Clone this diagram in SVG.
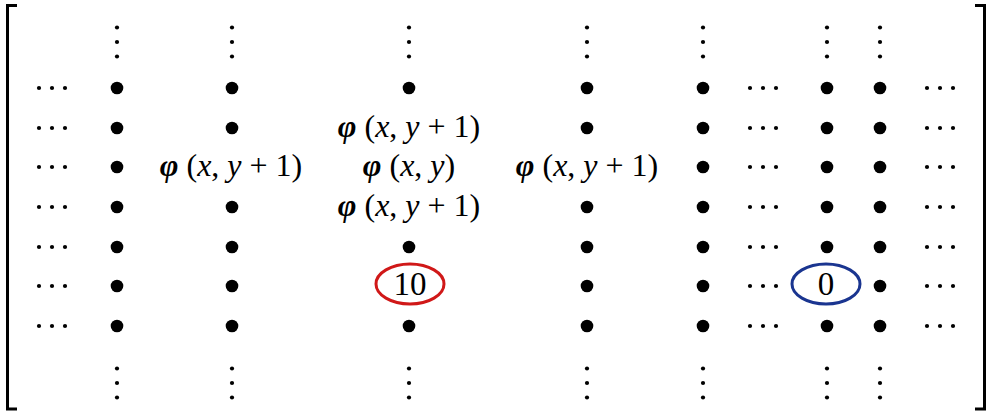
<svg xmlns="http://www.w3.org/2000/svg" xmlns:xlink="http://www.w3.org/1999/xlink" width="995" height="418" viewBox="0 0 995 418">
<style>
.bk{fill:none;stroke:#000;stroke-width:3}
.t{font-family:"Liberation Serif","Times New Roman",serif;font-size:32px;fill:#000;text-anchor:middle}
.n{font-size:33px}
.i{font-style:italic}
.p{font-style:italic;font-weight:bold}
.ring{fill:none;stroke-width:3}
</style>
<defs>
<circle id="d" r="6.3" fill="#000"/>
<g id="h"><circle cx="-13" r="2.1" fill="#000"/><circle cx="0" r="2.1" fill="#000"/><circle cx="13" r="2.1" fill="#000"/></g>
<g id="v"><circle cy="-14.5" r="2.1" fill="#000"/><circle cy="0" r="2.1" fill="#000"/><circle cy="14.5" r="2.1" fill="#000"/></g>
</defs>
<rect width="995" height="418" fill="#fff"/>
<g id="brackets">
<path class="bk" d="M17,5.5 H7.5 V409 H17"/>
<path class="bk" d="M975,5.5 H984.5 V409 H975"/>
</g>
<g id="vdots">
<use xlink:href="#v" x="117" y="42"/><use xlink:href="#v" x="232" y="42"/><use xlink:href="#v" x="409" y="42"/><use xlink:href="#v" x="587" y="42"/><use xlink:href="#v" x="703" y="42"/><use xlink:href="#v" x="827" y="42"/><use xlink:href="#v" x="880" y="42"/>
<use xlink:href="#v" x="117" y="383"/><use xlink:href="#v" x="232" y="383"/><use xlink:href="#v" x="409" y="383"/><use xlink:href="#v" x="587" y="383"/><use xlink:href="#v" x="703" y="383"/><use xlink:href="#v" x="827" y="383"/><use xlink:href="#v" x="880" y="383"/>
</g>
<g id="hdots">
<use xlink:href="#h" x="52" y="88"/><use xlink:href="#h" x="52" y="128"/><use xlink:href="#h" x="52" y="167"/><use xlink:href="#h" x="52" y="207"/><use xlink:href="#h" x="52" y="247"/><use xlink:href="#h" x="52" y="286"/><use xlink:href="#h" x="52" y="326"/>
<use xlink:href="#h" x="763" y="88"/><use xlink:href="#h" x="763" y="128"/><use xlink:href="#h" x="763" y="167"/><use xlink:href="#h" x="763" y="207"/><use xlink:href="#h" x="763" y="247"/><use xlink:href="#h" x="763" y="286"/><use xlink:href="#h" x="763" y="326"/>
<use xlink:href="#h" x="940" y="88"/><use xlink:href="#h" x="940" y="128"/><use xlink:href="#h" x="940" y="167"/><use xlink:href="#h" x="940" y="207"/><use xlink:href="#h" x="940" y="247"/><use xlink:href="#h" x="940" y="286"/><use xlink:href="#h" x="940" y="326"/>
</g>
<g id="col1">
<use xlink:href="#d" x="117" y="88"/><use xlink:href="#d" x="117" y="128"/><use xlink:href="#d" x="117" y="167"/><use xlink:href="#d" x="117" y="207"/><use xlink:href="#d" x="117" y="247"/><use xlink:href="#d" x="117" y="286"/><use xlink:href="#d" x="117" y="326"/>
</g>
<g id="col2">
<use xlink:href="#d" x="232" y="88"/><use xlink:href="#d" x="232" y="128"/>
<text class="t" x="231" y="176"><tspan class="p">φ</tspan> (<tspan class="i">x</tspan>, <tspan class="i">y</tspan> + 1)</text>
<use xlink:href="#d" x="232" y="207"/><use xlink:href="#d" x="232" y="247"/><use xlink:href="#d" x="232" y="286"/><use xlink:href="#d" x="232" y="326"/>
</g>
<g id="col3">
<use xlink:href="#d" x="409" y="88"/>
<text class="t" x="409" y="137"><tspan class="p">φ</tspan> (<tspan class="i">x</tspan>, <tspan class="i">y</tspan> + 1)</text>
<text class="t" x="409" y="176"><tspan class="p">φ</tspan> (<tspan class="i">x</tspan>, <tspan class="i">y</tspan>)</text>
<text class="t" x="409" y="216"><tspan class="p">φ</tspan> (<tspan class="i">x</tspan>, <tspan class="i">y</tspan> + 1)</text>
<use xlink:href="#d" x="409" y="247"/>
<use xlink:href="#d" x="409" y="326"/>
</g>
<g id="node-10">
<ellipse class="ring" cx="410" cy="284" rx="34" ry="20" stroke="#d01818"/>
<text class="t n" x="410" y="295">10</text>
</g>
<g id="col4">
<use xlink:href="#d" x="587" y="88"/><use xlink:href="#d" x="587" y="128"/>
<text class="t" x="587" y="176"><tspan class="p">φ</tspan> (<tspan class="i">x</tspan>, <tspan class="i">y</tspan> + 1)</text>
<use xlink:href="#d" x="587" y="207"/><use xlink:href="#d" x="587" y="247"/><use xlink:href="#d" x="587" y="286"/><use xlink:href="#d" x="587" y="326"/>
</g>
<g id="col5">
<use xlink:href="#d" x="703" y="88"/><use xlink:href="#d" x="703" y="128"/><use xlink:href="#d" x="703" y="167"/><use xlink:href="#d" x="703" y="207"/><use xlink:href="#d" x="703" y="247"/><use xlink:href="#d" x="703" y="286"/><use xlink:href="#d" x="703" y="326"/>
</g>
<g id="col6">
<use xlink:href="#d" x="827" y="88"/><use xlink:href="#d" x="827" y="128"/><use xlink:href="#d" x="827" y="167"/><use xlink:href="#d" x="827" y="207"/><use xlink:href="#d" x="827" y="247"/><use xlink:href="#d" x="827" y="326"/>
</g>
<g id="node-0">
<ellipse class="ring" cx="826" cy="284" rx="34" ry="20" stroke="#1a3590"/>
<text class="t n" x="826" y="295">0</text>
</g>
<g id="col7">
<use xlink:href="#d" x="880" y="88"/><use xlink:href="#d" x="880" y="128"/><use xlink:href="#d" x="880" y="167"/><use xlink:href="#d" x="880" y="207"/><use xlink:href="#d" x="880" y="247"/><use xlink:href="#d" x="880" y="286"/><use xlink:href="#d" x="880" y="326"/>
</g>
</svg>
